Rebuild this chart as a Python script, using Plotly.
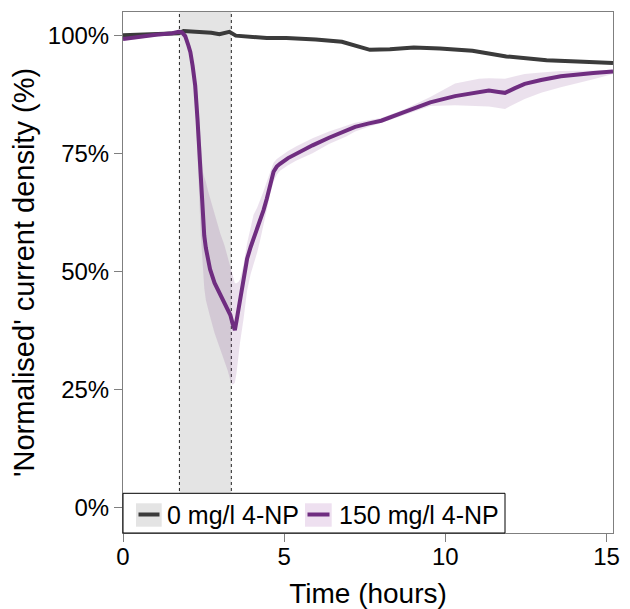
import plotly.graph_objects as go

# ---- data ----
t_ctrl = [0, 0.52, 1.02, 1.53, 1.73, 1.88, 2.24, 2.49, 2.74, 2.99, 3.30, 3.50, 4.06, 4.46, 5.07,
          5.48, 5.98, 6.79, 7.25, 7.66, 8.28, 9.02, 9.83, 10.84, 11.89, 13.14, 14.28, 15.2]
y_ctrl = [100.0, 100.1, 100.2, 100.3, 100.4, 100.9, 100.8, 100.7, 100.5, 100.2, 100.7, 99.9, 99.6,
          99.4, 99.4, 99.3, 99.1, 98.6, 97.6, 96.9, 97.0, 97.4, 97.2, 96.7, 95.5, 94.7, 94.4, 94.1]

t_np = [0, 0.52, 1.02, 1.53, 1.73, 1.83, 1.93, 2.03, 2.09, 2.16, 2.24, 2.31, 2.37, 2.41, 2.45,
        2.48, 2.52, 2.57, 2.64, 2.70, 2.84, 3.02, 3.15, 3.25, 3.33, 3.40, 3.47, 3.52, 3.58, 3.63,
        3.74, 3.85, 3.96, 4.05, 4.16, 4.25, 4.36, 4.46, 4.57, 4.67, 4.77, 4.87, 5.12, 5.38, 5.88,
        6.39, 6.94, 7.2, 7.6, 8.01, 8.72, 9.53, 10.3, 11.04, 11.35, 11.65, 11.85, 12.16, 12.46,
        12.97, 13.58, 14.59, 15.2]
y_np = [99.2, 99.7, 100.1, 100.4, 100.7, 100.6, 99.8, 97.8, 96.4, 93.5, 89.3, 82.3, 75.3, 70.5,
        64.8, 61.0, 57.6, 55.0, 52.4, 50.5, 47.6, 45.0, 43.3, 42.0, 40.8, 39.0, 37.6, 39.5, 42.0,
        44.3, 48.5, 52.7, 55.2, 57.0, 58.8, 60.5, 63.0, 65.4, 68.3, 71.1, 72.2, 72.8, 74.0, 75.0,
        76.7, 78.3, 79.8, 80.6, 81.3, 81.9, 83.7, 85.8, 87.1, 88.0, 88.3, 88.0, 87.8, 88.8, 89.7,
        90.5, 91.3, 92.0, 92.3]
lo_np = [98.8, 99.3, 99.7, 100.0, 100.2, 100.0, 99.0, 96.8, 95.0, 91.5, 86.0, 75.0, 64.0, 58.0,
         54.0, 50.0, 46.5, 44.0, 42.0, 40.5, 37.0, 33.5, 31.0, 29.0, 27.0, 26.0, 26.5, 28.5, 32.0,
         35.0, 40.0, 46.0, 49.5, 51.5, 54.0, 56.5, 60.0, 63.0, 66.5, 69.0, 70.5, 71.3, 72.5, 73.5,
         75.0, 77.0, 78.6, 79.6, 80.6, 81.4, 83.1, 85.0, 85.2, 85.0, 84.9, 84.6, 84.4, 85.5, 86.5,
         87.8, 89.0, 90.7, 91.8]
hi_np = [99.6, 100.1, 100.5, 100.8, 101.2, 101.1, 100.6, 98.6, 97.6, 95.0, 92.0, 87.5, 81.0, 77.0,
         72.0, 71.0, 70.0, 69.0, 67.0, 65.5, 62.0, 58.0, 55.5, 53.0, 51.0, 49.0, 47.5, 47.5, 47.8,
         48.3, 51.5, 56.0, 59.5, 62.0, 63.5, 65.0, 67.0, 69.0, 71.0, 73.0, 73.8, 74.3, 75.5, 76.5,
         78.2, 79.6, 80.9, 81.5, 82.0, 82.5, 84.3, 86.9, 89.8, 90.8, 90.9, 90.9, 90.8, 91.3, 91.8,
         92.1, 92.4, 92.5, 92.7]

exposure = [1.75, 3.36]          # shaded dosing window (hours)
x_ticks = [0, 5, 10, 15]
y_ticks = [0, 25, 50, 75, 100]
y_ticktext = ["0%", "25%", "50%", "75%", "100%"]
legend_labels = ["0 mg/l 4-NP", "150 mg/l 4-NP"]

# ---- style ----
FONT = "Liberation Sans, Arial, Helvetica, sans-serif"
C_CTRL = "#3b3b3b"
C_NP = "#6f2d80"
F_NP = "rgba(111,45,128,0.14)"
F_CTRL = "rgba(60,60,60,0.12)"

OFF = 8                      # page body margin of the html page
W, H = 630 - OFF, 609 - OFF
L, R, T, B = 115, 17, 4, 76
PW, PH = W - L - R, H - T - B


def px(xp):
    """window pixel x -> paper fraction"""
    return (xp - OFF - L) / PW


def py(yp):
    """window pixel y -> paper fraction"""
    return (H - B - (yp - OFF)) / PH


fig = go.Figure()

# control ribbon (very narrow) and line
fig.add_trace(go.Scatter(x=t_ctrl, y=[v - 0.3 for v in y_ctrl], mode="lines",
                         line=dict(width=0), hoverinfo="skip", showlegend=False))
fig.add_trace(go.Scatter(x=t_ctrl, y=[v + 0.3 for v in y_ctrl], mode="lines", fill="tonexty",
                         fillcolor=F_CTRL, line=dict(width=0), hoverinfo="skip", showlegend=False))
# 4-NP ribbon
fig.add_trace(go.Scatter(x=t_np, y=lo_np, mode="lines", line=dict(width=0),
                         hoverinfo="skip", showlegend=False))
fig.add_trace(go.Scatter(x=t_np, y=hi_np, mode="lines", fill="tonexty", fillcolor=F_NP,
                         line=dict(width=0), hoverinfo="skip", showlegend=False))
# lines
fig.add_trace(go.Scatter(x=t_ctrl, y=y_ctrl, mode="lines", name=legend_labels[0],
                         line=dict(color=C_CTRL, width=4), showlegend=False))
fig.add_trace(go.Scatter(x=t_np, y=y_np, mode="lines", name=legend_labels[1],
                         line=dict(color=C_NP, width=4), showlegend=False))

shapes = [
    dict(type="rect", xref="x", yref="paper", x0=exposure[0], x1=exposure[1], y0=0, y1=1,
         fillcolor="#e4e4e4", line=dict(width=0), layer="below"),
    dict(type="line", xref="x", yref="paper", x0=exposure[0], x1=exposure[0], y0=0, y1=1,
         line=dict(color="#222222", width=1, dash="dot"), layer="below"),
    dict(type="line", xref="x", yref="paper", x0=exposure[1], x1=exposure[1], y0=0, y1=1,
         line=dict(color="#222222", width=1, dash="dot"), layer="below"),
    # legend box
    dict(type="rect", xref="paper", yref="paper", x0=0, x1=px(505), y0=0, y1=py(493.3),
         fillcolor="white", line=dict(color="black", width=1), layer="above"),
    # legend keys
    dict(type="rect", xref="paper", yref="paper", x0=px(136), x1=px(161.7), y0=py(526.7), y1=py(503.3),
         fillcolor="#e4e4e4", line=dict(width=0), layer="above"),
    dict(type="line", xref="paper", yref="paper", x0=px(138.5), x1=px(159.5), y0=py(514.5), y1=py(514.5),
         line=dict(color=C_CTRL, width=4), layer="above"),
    dict(type="rect", xref="paper", yref="paper", x0=px(305), x1=px(331.7), y0=py(526.7), y1=py(503.3),
         fillcolor="#eee0f0", line=dict(width=0), layer="above"),
    dict(type="line", xref="paper", yref="paper", x0=px(307.5), x1=px(329.5), y0=py(514.5), y1=py(514.5),
         line=dict(color=C_NP, width=4), layer="above"),
]

annotations = [
    dict(xref="paper", yref="paper", x=px(165), y=py(515), text=legend_labels[0], showarrow=False,
         xanchor="left", yanchor="middle", font=dict(family=FONT, size=25, color="black")),
    dict(xref="paper", yref="paper", x=px(336.5), y=py(515), text=legend_labels[1], showarrow=False,
         xanchor="left", yanchor="middle", font=dict(family=FONT, size=25, color="black")),
]

fig.update_layout(
    width=W, height=H,
    margin=dict(l=L, r=R, t=T, b=B, pad=0),
    paper_bgcolor="white", plot_bgcolor="white",
    font=dict(family=FONT, color="black"),
    shapes=shapes, annotations=annotations,
    showlegend=False,
    xaxis=dict(range=[0, 15.2], tickvals=x_ticks, ticks="outside", ticklen=8, tickwidth=1,
               tickcolor="#7f7f7f", showline=True, linecolor="#7f7f7f", linewidth=1, mirror=True,
               showgrid=False, zeroline=False, automargin=False, ticklabelstandoff=-6,
               tickfont=dict(size=24, color="black"),
               title=dict(text="Time (hours)", font=dict(size=28, color="black"), standoff=14)),
    yaxis=dict(range=[-5.3, 104.9], tickvals=y_ticks, ticktext=y_ticktext, ticks="outside", ticklen=8,
               tickwidth=1, tickcolor="#7f7f7f", showline=True, linecolor="#7f7f7f", linewidth=1,
               mirror=True, showgrid=False, zeroline=False, automargin=False,
               tickfont=dict(size=24, color="black"),
               title=dict(text="'Normalised' current density (%)", font=dict(size=29, color="black"),
                          standoff=10)),
)

fig.write_html("out.html")
